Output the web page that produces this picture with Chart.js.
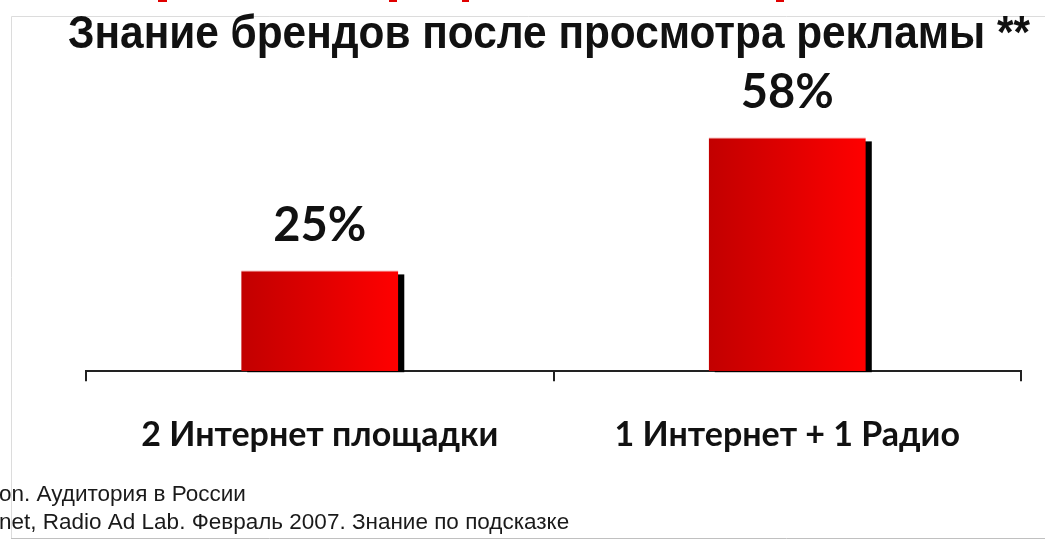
<!DOCTYPE html>
<html lang="ru">
<head>
<meta charset="utf-8">
<title>Знание брендов после просмотра рекламы</title>
<script src="https://cdn.jsdelivr.net/npm/chart.js@4/dist/chart.umd.min.js"></script>
<style>
  html, body { margin: 0; padding: 0; background: #ffffff; }
  #wrap { width: 1045px; height: 540px; position: relative; }
  canvas { display: block; }
</style>
</head>
<body>
<div id="wrap"><canvas id="c" width="1045" height="540"></canvas></div>
<script>
// ---- data ----
const categories = ["2 Интернет площадки", "1 Интернет + 1 Радио"];
const awareness = [25, 58];
const valueLabels = ["25%", "58%"];
const titleText = "Знание брендов после просмотра рекламы **";
const footnotes = [
  "on. Аудитория в России",
  "net, Radio Ad Lab. Февраль 2007. Знание по подсказке"
];

// ---- styles ----
const TITLE_FONT = "bold 46px 'Liberation Sans', Arial, sans-serif";
const CAT_FONT_FAMILY = "Lato, 'Open Sans', sans-serif";
const LABEL_FONT = "bold 47px Lato, 'Open Sans', sans-serif";
const NOTE_FONT = "22.5px 'Liberation Sans', Arial, sans-serif";

function barGradient(ctx) {
  const chart = ctx.chart;
  const xs = chart.scales && chart.scales.x;
  if (!xs || typeof ctx.dataIndex !== 'number') return '#e00000';
  const cx = xs.getPixelForValue(ctx.dataIndex);
  const catW = xs.width / categories.length;
  const w = catW * 0.336;
  if (!isFinite(cx) || !isFinite(w) || w <= 0) return '#e00000';
  const g = chart.ctx.createLinearGradient(cx - w / 2, 0, cx + w / 2, 0);
  g.addColorStop(0, '#c20000');
  g.addColorStop(0.5, '#e00000');
  g.addColorStop(1, '#ff0000');
  return g;
}

const decorPlugin = {
  id: 'decor',
  beforeDraw(chart) {
    const ctx = chart.ctx;
    ctx.save();
    ctx.fillStyle = '#ffffff';
    ctx.fillRect(0, 0, chart.width, chart.height);
    ctx.lineWidth = 1;
    ctx.strokeStyle = '#dcdcdc';
    ctx.beginPath();
    ctx.moveTo(11.5, 538); ctx.lineTo(11.5, 16.5); ctx.lineTo(1045, 16.5);
    ctx.stroke();
    ctx.strokeStyle = '#c0c0c0';
    ctx.beginPath();
    ctx.moveTo(11, 538.5); ctx.lineTo(1045, 538.5);
    ctx.stroke();
    ctx.fillStyle = '#e00000';
    [[158, 9], [389, 8], [462, 7], [776, 8]].forEach(p => ctx.fillRect(p[0], 0, p[1], 2));
    ctx.restore();
  },
  afterDraw(chart) {
    const ctx = chart.ctx;
    ctx.save();
    ctx.font = TITLE_FONT;
    ctx.fillStyle = '#111111';
    ctx.textBaseline = 'alphabetic';
    ctx.textAlign = 'left';
    const tw = ctx.measureText(titleText).width;
    const targetW = 962;
    ctx.translate(68, 48);
    ctx.scale(targetW / tw, 1);
    ctx.fillText(titleText, 0, 0);
    ctx.restore();
    ctx.save();
    ctx.font = NOTE_FONT;
    ctx.fillStyle = '#1a1a1a';
    ctx.textAlign = 'left';
    ctx.textBaseline = 'alphabetic';
    ctx.fillText(footnotes[0], -1, 501);
    ctx.fillText(footnotes[1], -1, 529);
    ctx.restore();
  }
};

const shadowPlugin = {
  id: 'barShadow',
  beforeDatasetsDraw(chart) {
    const ctx = chart.ctx;
    const meta = chart.getDatasetMeta(0);
    ctx.save();
    ctx.fillStyle = '#000000';
    meta.data.forEach(el => {
      const p = el.getProps(['x', 'y', 'base', 'width'], true);
      ctx.fillRect(p.x - p.width / 2 + 6, p.y + 4, p.width, p.base - p.y - 3);
    });
    ctx.restore();
  },
  afterDatasetsDraw(chart) {
    const ctx = chart.ctx;
    const meta = chart.getDatasetMeta(0);
    ctx.save();
    ctx.font = LABEL_FONT;
    ctx.fillStyle = '#111111';
    ctx.textAlign = 'center';
    ctx.textBaseline = 'alphabetic';
    meta.data.forEach((el, i) => {
      ctx.fillText(valueLabels[i], el.x, el.y - 29);
    });
    ctx.restore();
  }
};

new Chart(document.getElementById('c'), {
  type: 'bar',
  data: {
    labels: categories,
    datasets: [{
      data: awareness,
      backgroundColor: barGradient,
      borderColor: '#f08a8a',
      borderWidth: { top: 1, left: 0, right: 0, bottom: 0 },
      borderSkipped: false,
      barPercentage: 0.336,
      categoryPercentage: 1.0
    }]
  },
  options: {
    responsive: false,
    devicePixelRatio: 1,
    animation: false,
    events: [],
    layout: { padding: { left: 86, right: 24, top: 89, bottom: 52 } },
    plugins: {
      legend: { display: false },
      title: { display: false },
      tooltip: { enabled: false }
    },
    scales: {
      x: {
        offset: true,
        grid: {
          offset: true,
          display: true,
          drawOnChartArea: false,
          drawTicks: true,
          tickLength: 10,
          color: '#222222',
          lineWidth: 2
        },
        border: { display: true, color: '#222222', width: 2 },
        ticks: {
          color: '#111111',
          padding: 33,
          maxRotation: 0,
          font: { family: CAT_FONT_FAMILY, size: 34, weight: 'bold' }
        }
      },
      y: {
        display: false,
        min: 0,
        max: 70
      }
    }
  },
  plugins: [decorPlugin, shadowPlugin]
});
</script>
</body>
</html>
